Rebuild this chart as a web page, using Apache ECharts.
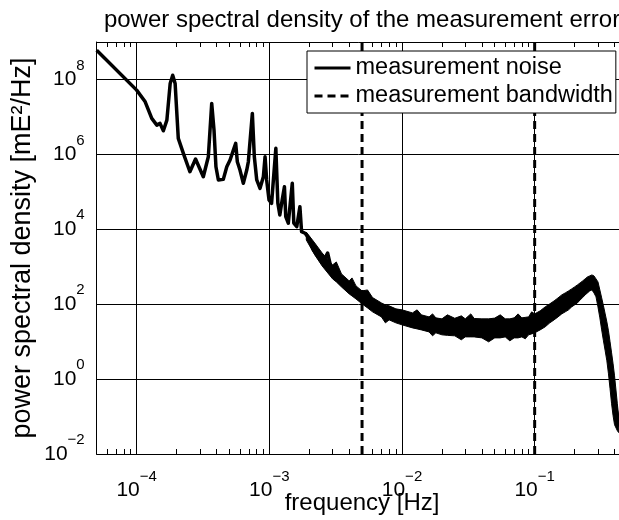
<!DOCTYPE html>
<html><head><meta charset="utf-8">
<script src="https://cdn.jsdelivr.net/npm/echarts@6/dist/echarts.min.js"></script>
<style>html,body{margin:0;padding:0;background:#fff}#c{width:619px;height:520px}</style>
</head><body><div id="c"></div>
<script>
// ---- data ----
const noiseFreq = [5.0e-5,1.0e-4,1.16e-4,1.30e-4,1.42e-4,1.50e-4,1.59e-4,1.69e-4,1.79e-4,1.87e-4,1.95e-4,2.06e-4,2.25e-4,2.52e-4,2.78e-4,3.18e-4,3.47e-4,3.68e-4,3.83e-4,3.96e-4,4.13e-4,4.50e-4,4.78e-4,5.06e-4,5.36e-4,5.58e-4,5.74e-4,6.01e-4,6.37e-4,6.76e-4,6.95e-4,7.45e-4,7.71e-4,8.04e-4,8.51e-4,9.02e-4,9.29e-4,9.55e-4,9.95e-4,1.04e-3,1.12e-3,1.16e-3,1.20e-3,1.25e-3,1.30e-3,1.33e-3,1.39e-3,1.49e-3,1.53e-3,1.61e-3,1.70e-3,1.75e-3,1.86e-3,2.03e-3,2.15e-3,2.34e-3,2.55e-3,2.75e-3,2.92e-3,3.2e-3,3.5e-3,4e-3,4.5e-3,5e-3,6e-3,7e-3,8e-3,9e-3,1e-2,1.2e-2,1.4e-2,1.6e-2,2e-2,3e-2,5e-2,7e-2,9e-2,0.1,0.12,0.14,0.16,0.18,0.2,0.22,0.24,0.26,0.27,0.28,0.30,0.32,0.34,0.36,0.38,0.40,0.42,0.43];
const noisePsd = [6.04e8,5.19e7,2.53e7,9.12e6,6.04e6,6.71e6,4.26e6,8.22e6,7.82e7,1.30e8,7.82e7,2.67e6,1.06e6,3.44e5,7.50e5,2.53e5,8.63e5,2.29e7,4.46e6,4.67e5,2.07e5,2.15e5,4.67e5,7.05e5,1.30e6,1.96e6,6.35e5,3.81e5,1.69e5,3.81e5,6.35e5,1.24e7,8.63e5,2.07e5,1.24e5,2.53e5,8.63e5,2.07e5,6.04e4,4.93e4,1.45e6,4.93e4,2.40e4,6.04e4,1.37e5,2.17e4,1.45e4,1.69e5,1.45e4,1.17e4,4.01e4,8.63e3,7.82e3,5.19e3,2.81e3,1.86e3,1.37e3,2.33e3,929,586,431,281,206,152,95.8,70.5,58.6,48.8,44.5,37.0,32.7,28.9,24.8,23.3,22.6,23.3,26.4,30.8,45.8,68.4,98.8,126,166,219,289,359,381,337,188,55.1,18.2,5.35,1.08,0.281,0.0986,0.0537];

// spread (upper / lower edge) of the dense noisy part of the spectrum
const bandFreq = [1.9e-3,2.2e-3,2.5e-3,3e-3,3.2e-3,3.5e-3,4e-3,4.2e-3,4.5e-3,5e-3,5.5e-3,6e-3,7e-3,7.5e-3,8e-3,9e-3,
  1e-2,1.2e-2,1.3e-2,1.4e-2,1.6e-2,1.7e-2,1.8e-2,2e-2,2.2e-2,2.5e-2,2.8e-2,3e-2,3.3e-2,3.5e-2,4e-2,4.5e-2,5e-2,5.5e-2,6e-2,6.5e-2,7e-2,7.5e-2,8e-2,8.5e-2,9e-2,9.5e-2,
  0.10,0.11,0.12,0.13,0.14,0.15,0.16,0.17,0.18,0.19,0.20,0.21,0.22,0.23,0.24,0.25,0.26,0.27,0.28,0.29,0.30,0.31,0.32,0.33,0.34,0.35,0.36,0.37,0.38,0.39,0.40,0.42,0.43];
const bandHigh = [8410,4310,2330,1120,1340,643,418,502,308,226,240,150,108,95.8,90.2,75.0,
  70.5,58.6,70.5,51.9,45.8,55.1,43.1,40.6,51.9,42.0,48.8,40.6,55.1,41.5,40.6,40.6,42.5,51.9,40.6,40.6,43.1,55.1,43.1,44.5,45.8,62.4,
  55.1,66.3,84.7,102,122,147,177,200,226,256,289,327,370,418,473,535,569,604,569,473,394,240,147,90.2,55.1,33.7,19.4,9.88,5.02,2.56,1.22,0.219,0.0986];
const bandLow = [5190,2070,1050,473,394,289,188,166,138,102,79.6,62.4,45.8,31.7,38.1,31.7,
  28.1,23.3,21.9,20.6,18.2,14.3,17.2,15.2,14.7,14.3,11.2,13.4,13.4,13.4,12.6,9.88,12.6,12.6,13.4,10.5,12.6,12.6,13.4,11.9,15.2,16.1,
  17.2,20.6,24.8,31.7,38.1,45.8,55.1,62.4,70.5,84.7,95.8,108,130,150,177,200,226,240,200,157,84.7,43.1,20.6,10.5,5.69,3.08,1.38,0.551,0.219,0.105,0.0604,0.0418,0.0373];

const bandwidthFreq = [5e-3, 1e-1];
const xMajorTicks = [1e-4, 1e-3, 1e-2, 1e-1];
const xMinorTicks = [6e-5,7e-5,8e-5,9e-5,2e-4,3e-4,4e-4,5e-4,6e-4,7e-4,8e-4,9e-4,2e-3,3e-3,4e-3,5e-3,6e-3,7e-3,8e-3,9e-3,2e-2,3e-2,4e-2,5e-2,6e-2,7e-2,8e-2,9e-2,0.2,0.3,0.4];
const yTicks = [1e-2, 1e0, 1e2, 1e4, 1e6, 1e8];
const xRange = [5e-5, 0.5];
const yRange = [1e-2, 1e9];

// ---- chart ----
const FF = '"Liberation Sans", Arial, Helvetica, sans-serif';
function expLabel(v) {
  const e = Math.round(Math.log10(v));
  const s = e < 0 ? '\u2212' + (-e) : String(e);
  return '{b|10}{s|' + s + '}';
}
const rich = {
  b: { fontSize: 21, fontFamily: FF, color: '#000', verticalAlign: 'middle' },
  s: { fontSize: 15, fontFamily: FF, color: '#000', verticalAlign: 'middle', padding: [0, 0, 28, 0] }
};

const chart = echarts.init(document.getElementById('c'), null, { renderer: 'canvas' });
const noiseData = noiseFreq.map((f, i) => [f, noisePsd[i]]);
const bwData = [[bandwidthFreq[0], yRange[0]], [bandwidthFreq[0], yRange[1]], ['-', '-'], [bandwidthFreq[1], yRange[0]], [bandwidthFreq[1], yRange[1]]];

chart.setOption({
  animation: false,
  backgroundColor: '#fff',
  textStyle: { fontFamily: FF },
  graphic: [{
    type: 'text', x: 362, y: 20,
    style: { text: 'power spectral density of the measurement error', fontSize: 24, fontFamily: FF, fill: '#000', align: 'center', verticalAlign: 'middle' }
  }],
  grid: { left: 96.7, right: -8.4, top: 42, bottom: 66, show: false, containLabel: false, outerBoundsMode: 'none' },
  legend: {
    data: ['measurement noise', 'measurement bandwidth'],
    orient: 'vertical', left: 307, top: 51, z: 20,
    padding: [5, 3, 5, 6], itemGap: 4, itemWidth: 36, itemHeight: 16,
    backgroundColor: '#fff', borderColor: '#000', borderWidth: 1, borderRadius: 0,
    itemStyle: { opacity: 0 },
    lineStyle: { width: 3 },
    textStyle: { fontSize: 23.5, color: '#000', fontFamily: FF },
    selectedMode: false
  },
  xAxis: [
    {
      type: 'log', position: 'bottom', min: xRange[0], max: xRange[1],
      name: 'frequency [Hz]', nameLocation: 'middle', nameGap: 37, nameMoveOverlap: false,
      nameTextStyle: { fontSize: 24, color: '#000', fontFamily: FF },
      axisLine: { show: true, lineStyle: { color: '#000', width: 1 } },
      axisTick: { show: true, inside: true, length: 5, customValues: xMinorTicks, lineStyle: { color: '#000', width: 1 } },
      axisLabel: { customValues: xMajorTicks, formatter: expLabel, rich: rich, margin: 15 },
      splitLine: { show: false }
    },
    {
      type: 'log', position: 'bottom', min: xRange[0], max: xRange[1],
      axisLine: { show: false },
      axisTick: { show: false, customValues: xMajorTicks },
      axisLabel: { show: false },
      splitLine: { show: true, lineStyle: { color: '#000', width: 1 } }
    },
    {
      type: 'log', position: 'top', min: xRange[0], max: xRange[1],
      axisLine: { show: true, lineStyle: { color: '#000', width: 1 } },
      axisTick: { show: true, inside: true, length: 5, customValues: xMinorTicks, lineStyle: { color: '#000', width: 1 } },
      axisLabel: { show: false },
      splitLine: { show: false }
    }
  ],
  yAxis: [{
    type: 'log', min: yRange[0], max: yRange[1],
    name: 'power spectral density [mE\u00b2/Hz]', nameLocation: 'middle', nameGap: 61, nameMoveOverlap: false,
    nameTextStyle: { fontSize: 27, color: '#000', fontFamily: FF },
    axisLine: { show: true, lineStyle: { color: '#000', width: 1 } },
    axisTick: { show: false, customValues: yTicks },
    axisLabel: { customValues: yTicks, formatter: expLabel, rich: rich, margin: 12 },
    splitLine: { show: true, lineStyle: { color: '#000', width: 1 } }
  }],
  series: [
    {
      type: 'custom', name: 'noise spread', xAxisIndex: 0, yAxisIndex: 0, silent: true, z: 3,
      data: [[bandFreq[0], bandHigh[0]]],
      renderItem: function (params, api) {
        const pts = [];
        for (let i = 0; i < bandFreq.length; i++) pts.push(api.coord([bandFreq[i], bandHigh[i]]));
        for (let i = bandFreq.length - 1; i >= 0; i--) pts.push(api.coord([bandFreq[i], bandLow[i]]));
        return { type: 'polygon', shape: { points: pts }, style: { fill: '#000', stroke: '#000', lineWidth: 1 } };
      }
    },
    {
      type: 'line', name: 'measurement noise', data: noiseData, xAxisIndex: 0, yAxisIndex: 0,
      symbol: 'none', z: 4,
      lineStyle: { color: '#000', width: 3.5, join: 'round' }, itemStyle: { color: '#000' }
    },
    {
      type: 'line', name: 'measurement bandwidth', data: bwData, xAxisIndex: 0, yAxisIndex: 0,
      symbol: 'none', z: 5, connectNulls: false,
      lineStyle: { color: '#000', width: 3, type: [8, 5] }, itemStyle: { color: '#000' }
    }
  ]
});
</script>
</body></html>
